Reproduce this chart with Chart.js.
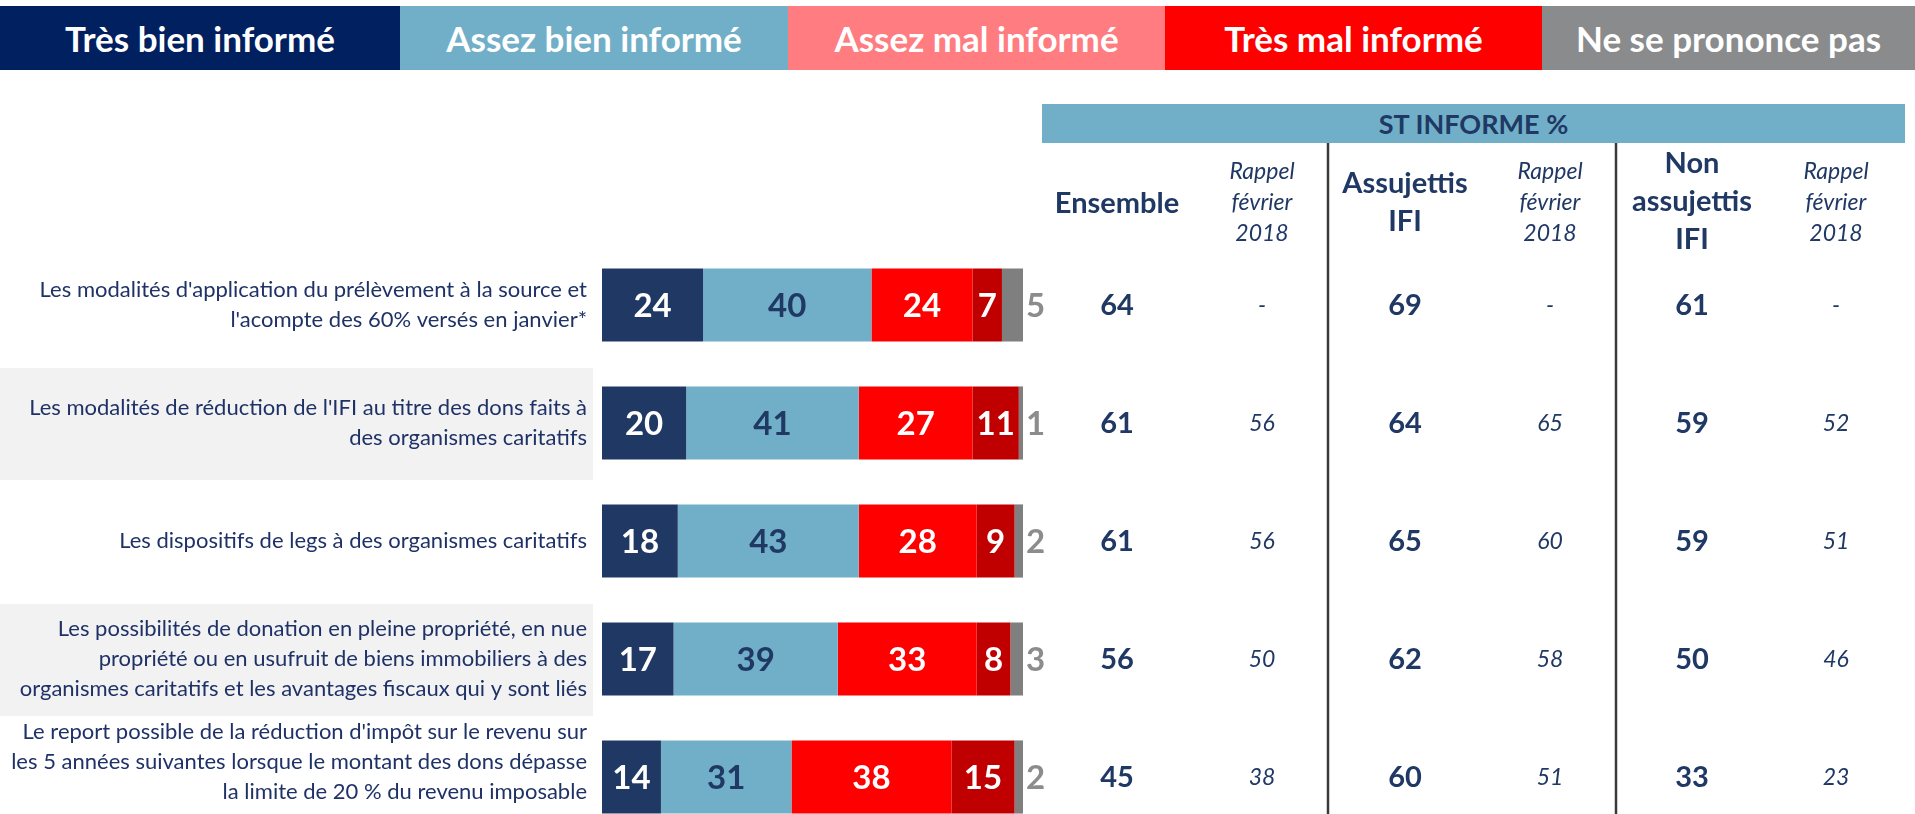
<!DOCTYPE html>
<html lang="fr">
<head>
<meta charset="utf-8">
<title>Niveau d'information – dispositifs fiscaux</title>
<script src="https://cdn.jsdelivr.net/npm/chart.js@4.4.1/dist/chart.umd.min.js"></script>
<style>
  html, body { margin: 0; padding: 0; background: #fff; overflow: hidden; }
  body { width: 1915px; height: 814px; position: relative; font-family: Lato, "Open Sans", sans-serif; }
  #chart { position: absolute; left: 0; top: 0; }
  .legend { position: absolute; top: 6px; left: 0; width: 1915px; height: 64px; display: flex; }
  .legend div { color: #fff; font-weight: 700; font-size: 35px; display: flex; align-items: center; justify-content: center; }
  .band { position: absolute; left: 1042px; top: 104px; width: 863px; height: 39px; background: #71afc8;
          color: #1f3864; font-weight: 700; font-size: 27px; display: flex; align-items: center; justify-content: center; }
  .head { position: absolute; width: 170px; text-align: center; color: #1f3864; transform: translate(-50%, -50%); }
  .head.main { font-weight: 700; font-size: 29px; line-height: 38px; }
  .head.rappel { font-style: italic; font-size: 23px; line-height: 31px; }
</style>
</head>
<body>
<canvas id="chart" width="1915" height="845"></canvas>
<div class="legend" id="legend"></div>
<div class="band">ST INFORME %</div>
<div class="head main" style="left:1117px; top:202px;">Ensemble</div>
<div class="head rappel" style="left:1262px; top:201px;">Rappel<br>février<br>2018</div>
<div class="head main" style="left:1405px; top:201px;">Assujettis<br>IFI</div>
<div class="head rappel" style="left:1550px; top:201px;">Rappel<br>février<br>2018</div>
<div class="head main" style="left:1692px; top:200px;">Non<br>assujettis<br>IFI</div>
<div class="head rappel" style="left:1836px; top:201px;">Rappel<br>février<br>2018</div>

<script>
// --- data ---
const categories = [
  ["Les modalités d'application du prélèvement à la source et", "l'acompte des 60% versés en janvier*"],
  ["Les modalités de réduction de l'IFI au titre des dons faits à", "des organismes caritatifs"],
  ["Les dispositifs de legs à des organismes caritatifs"],
  ["Les possibilités de donation en pleine propriété, en nue", "propriété ou en usufruit de biens immobiliers à des", "organismes caritatifs et les avantages fiscaux qui y sont liés"],
  ["Le report possible de la réduction d'impôt sur le revenu sur", "les 5 années suivantes lorsque le montant des dons dépasse", "la limite de 20 % du revenu imposable"]
];
const seriesNames = ["Très bien informé", "Assez bien informé", "Assez mal informé", "Très mal informé", "Ne se prononce pas"];
const tresBien = [24, 20, 18, 17, 14];
const assezBien = [40, 41, 43, 39, 31];
const assezMal = [24, 27, 28, 33, 38];
const tresMal = [7, 11, 9, 8, 15];
const nsp = [5, 1, 2, 3, 2];

const ensemble = [64, 61, 61, 56, 45];
const ensembleRappel = [null, 56, 56, 50, 38];
const assujettis = [69, 64, 65, 62, 60];
const assujettisRappel = [null, 65, 60, 58, 51];
const nonAssujettis = [61, 59, 59, 50, 33];
const nonAssujettisRappel = [null, 52, 51, 46, 23];

// --- styles ---
const legendColors = ["#002060", "#71afc8", "#ff7c80", "#ff0000", "#898b8d"];
const legendWidths = [400, 388, 377, 377, 373];
const barColors = ["#1f3864", "#71afc8", "#ff0000", "#c00000", "#7f7f7f"];
const labelColors = ["#ffffff", "#1f3864", "#ffffff", "#ffffff", "#8c8c8c"];
const navy = "#1f3864";

const legendEl = document.getElementById("legend");
seriesNames.forEach((name, i) => {
  const d = document.createElement("div");
  d.style.background = legendColors[i];
  d.style.width = legendWidths[i] + "px";
  d.textContent = name;
  legendEl.appendChild(d);
});

// grey background behind every other label
const rowBands = {
  id: "rowBands",
  beforeDraw(chart) {
    const { ctx, scales: { y } } = chart;
    ctx.save();
    ctx.fillStyle = "#f2f2f2";
    [1, 3].forEach((i) => {
      const cy = y.getPixelForValue(i);
      ctx.fillRect(0, cy - 55, 593, 112);
    });
    ctx.restore();
  }
};

// numbers inside the segments, the last one just after the bar
const segmentLabels = {
  id: "segmentLabels",
  afterDatasetsDraw(chart) {
    const { ctx } = chart;
    ctx.save();
    ctx.font = "bold 33px Lato";
    ctx.textBaseline = "middle";
    chart.data.datasets.forEach((ds, di) => {
      const meta = chart.getDatasetMeta(di);
      meta.data.forEach((bar, i) => {
        const v = ds.data[i];
        ctx.fillStyle = labelColors[di];
        if (di === 4) {
          ctx.textAlign = "left";
          ctx.fillText(String(v), bar.x + 3, bar.y + 1);
        } else {
          ctx.textAlign = "center";
          ctx.fillText(String(v), (bar.x + bar.base) / 2, bar.y + 1);
        }
      });
    });
    ctx.restore();
  }
};

// ST INFORME table on the right, rows follow the y scale
const tableColumns = [
  { values: ensemble, x: 1117, main: true },
  { values: ensembleRappel, x: 1262, main: false },
  { values: assujettis, x: 1405, main: true },
  { values: assujettisRappel, x: 1550, main: false },
  { values: nonAssujettis, x: 1692, main: true },
  { values: nonAssujettisRappel, x: 1836, main: false }
];
const sideTable = {
  id: "sideTable",
  afterDraw(chart) {
    const { ctx, scales: { y } } = chart;
    ctx.save();
    ctx.strokeStyle = "#3a3a3a";
    ctx.lineWidth = 2.5;
    [1328, 1616].forEach((x) => {
      ctx.beginPath();
      ctx.moveTo(x, 143);
      ctx.lineTo(x, chart.height);
      ctx.stroke();
    });
    ctx.fillStyle = navy;
    ctx.textAlign = "center";
    ctx.textBaseline = "middle";
    tableColumns.forEach((col) => {
      ctx.font = col.main ? "bold 29px Lato" : "italic 23px Lato";
      col.values.forEach((v, i) => {
        ctx.fillText(v === null ? "-" : String(v), col.x, y.getPixelForValue(i) + 1);
      });
    });
    ctx.restore();
  }
};

const seriesValues = [tresBien, assezBien, assezMal, tresMal, nsp];

new Chart(document.getElementById("chart"), {
  type: "bar",
  data: {
    labels: categories,
    datasets: seriesValues.map((vals, i) => ({
      label: seriesNames[i],
      data: vals,
      backgroundColor: barColors[i],
      borderWidth: 0,
      barPercentage: 0.62,
      categoryPercentage: 1
    }))
  },
  options: {
    indexAxis: "y",
    responsive: false,
    animation: false,
    layout: { padding: { left: 0, right: 892, top: 246, bottom: 9 } },
    plugins: { legend: { display: false }, tooltip: { enabled: false } },
    scales: {
      x: { stacked: true, min: 0, max: 100, display: false },
      y: {
        stacked: true,
        grid: { display: false, drawTicks: false },
        border: { display: false },
        ticks: {
          color: "#1f3267",
          font: { family: "Lato", size: 22, lineHeight: 1.36 },
          padding: 15,
          crossAlign: "near",
          autoSkip: false,
          // last label sits a bit higher in the slide (blank line lifts it)
          callback: (value, i) => (i === categories.length - 1 ? [...categories[i], ""] : categories[i])
        },
        afterFit: (scale) => {
          scale.width = 602;
          // the multi-line last label should not push the plot area up
          scale.paddingTop = 0;
          scale.paddingBottom = 0;
        }
      }
    }
  },
  plugins: [rowBands, segmentLabels, sideTable]
});
</script>
</body>
</html>
